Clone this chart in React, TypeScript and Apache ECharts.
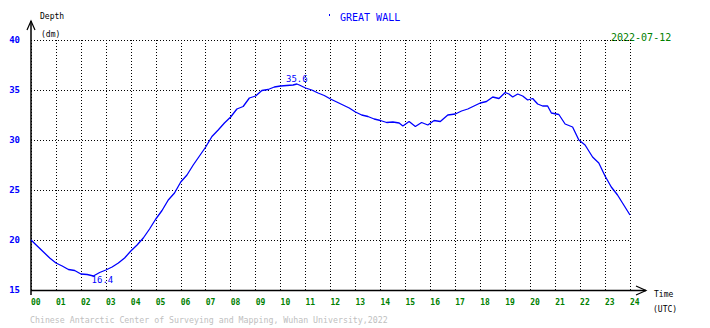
import React, { useEffect, useRef } from "react";
import * as echarts from "echarts";

// Tide readings (hours UTC, depth in dm)
const hours: number[] = [
  0, 0.25, 0.5, 0.75, 1.0, 1.25, 1.5, 1.75, 2.0, 2.25, 2.5, 2.75, 3.0, 3.25, 3.5, 3.75,
  4.0, 4.25, 4.5, 4.75, 5.0, 5.25, 5.5, 5.75, 6.0, 6.25, 6.5, 6.75, 7.0, 7.25, 7.5, 7.75,
  8.0, 8.25, 8.5, 8.75, 9.0, 9.25, 9.5, 9.75, 10.0, 10.25, 10.5, 10.65, 10.75, 11.0, 11.25,
  11.5, 11.75, 12.0, 12.25, 12.5, 12.75, 13.0, 13.25, 13.5, 13.75, 14.0, 14.25, 14.5, 14.75,
  14.9, 15.15, 15.4, 15.65, 15.9, 16.15, 16.4, 16.7, 17.0, 17.25, 17.5, 17.75, 18.0, 18.25,
  18.5, 18.75, 19.0, 19.15, 19.3, 19.5, 19.7, 19.9, 20.1, 20.3, 20.5, 20.7, 20.85, 21.15,
  21.4, 21.7, 21.95, 22.2, 22.5, 22.75, 23.0, 23.25, 23.5, 23.75, 24.0,
];
const depths: number[] = [
  20.0, 19.4, 18.8, 18.2, 17.7, 17.4, 17.05, 16.95, 16.6, 16.55, 16.4, 16.75, 17.0, 17.3, 17.7, 18.2,
  18.9, 19.5, 20.2, 21.1, 22.1, 22.95, 24.0, 24.7, 25.8, 26.5, 27.5, 28.4, 29.3, 30.35, 31.0, 31.7,
  32.3, 33.1, 33.35, 34.2, 34.4, 34.95, 35.05, 35.3, 35.4, 35.45, 35.5, 35.6, 35.5, 35.2, 35.0,
  34.7, 34.45, 34.1, 33.8, 33.5, 33.2, 32.8, 32.5, 32.35, 32.1, 31.95, 31.75, 31.8, 31.7,
  31.4, 31.85, 31.35, 31.75, 31.5, 31.95, 31.85, 32.5, 32.6, 32.9, 33.1, 33.4, 33.7, 33.85,
  34.3, 34.15, 34.75, 34.6, 34.3, 34.6, 34.4, 34.0, 34.15, 33.6, 33.4, 33.4, 32.7, 32.55,
  31.6, 31.3, 30.0, 29.5, 28.3, 27.7, 26.4, 25.3, 24.5, 23.5, 22.5,
];

const stationName = "GREAT WALL";
const dateText = "2022-07-12";
const footerText = "Chinese Antarctic Center of Surveying and Mapping, Wuhan University,2022";

const MONO = "'DejaVu Sans Mono', 'Liberation Mono', monospace";

export default function App() {
  const ref = useRef<HTMLDivElement>(null);

  useEffect(() => {
    if (!ref.current) return;
    const chart = echarts.init(ref.current, undefined, { renderer: "svg" });
    const data = hours.map((h, i) => [h, depths[i]]);
    const dotted = { color: "#000", width: 1, type: [1, 2] as any };

    chart.setOption({
      animation: false,
      backgroundColor: "#fff",
      grid: { left: 31, top: 40, right: 80, bottom: 38, containLabel: false },
      xAxis: {
        type: "value",
        min: 0,
        max: 24,
        interval: 1,
        axisLine: { show: false },
        axisTick: { show: false },
        splitLine: { show: true, lineStyle: dotted },
        axisLabel: {
          color: "#008000",
          fontFamily: MONO,
          fontWeight: "bold",
          fontSize: 8,
          align: "left",
          margin: 8,
          showMinLabel: true,
          showMaxLabel: true,
          formatter: (v: number) => (v < 10 ? "0" + v : String(v)),
        },
      },
      yAxis: {
        type: "value",
        min: 15,
        max: 40,
        interval: 5,
        axisLine: { show: false },
        axisTick: { show: false },
        splitLine: { show: true, lineStyle: dotted },
        axisLabel: {
          color: "#0000ff",
          fontFamily: MONO,
          fontWeight: "bold",
          fontSize: 9,
          margin: 11,
          padding: [0, 0, 5, 0],
        },
      },
      series: [
        {
          type: "line",
          data,
          symbol: "none",
          lineStyle: { color: "#0000ff", width: 1.3 },
          markPoint: {
            symbol: "circle",
            symbolSize: 0,
            itemStyle: { color: "transparent" },
            data: [
              {
                type: "min",
                label: {
                  show: true,
                  position: "inside",
                  offset: [9, 4],
                  color: "#0000ff",
                  fontFamily: MONO,
                  fontSize: 9,
                  formatter: (p: any) => p.value.toFixed(1),
                },
              },
              {
                type: "max",
                label: {
                  show: true,
                  position: "inside",
                  offset: [0, -5],
                  color: "#0000ff",
                  fontFamily: MONO,
                  fontSize: 9,
                  formatter: (p: any) => p.value.toFixed(1),
                },
              },
            ],
          },
        },
      ],
      graphic: [
        // y axis line with open arrow
        { type: "line", shape: { x1: 31, y1: 21, x2: 31, y2: 295 }, style: { stroke: "#000", lineWidth: 1.5 } },
        { type: "polyline", shape: { points: [[27, 30], [31, 21], [35, 30]] }, style: { stroke: "#000", lineWidth: 1.2, fill: "none" } },
        // x axis line with open arrow
        { type: "line", shape: { x1: 31, y1: 290.5, x2: 646, y2: 290.5 }, style: { stroke: "#000", lineWidth: 1.5 } },
        { type: "polyline", shape: { points: [[636, 286], [646, 290.5], [636, 295]] }, style: { stroke: "#000", lineWidth: 1.2, fill: "none" } },
        // axis titles
        { type: "text", x: 40, y: 16, style: { text: "Depth", fill: "#000", font: `8px ${MONO}`, verticalAlign: "middle" } },
        { type: "text", x: 41, y: 34, style: { text: "(dm)", fill: "#000", font: `8px ${MONO}`, verticalAlign: "middle" } },
        { type: "text", x: 654, y: 294.5, style: { text: "Time", fill: "#000", font: `8px ${MONO}`, verticalAlign: "middle" } },
        { type: "text", x: 653, y: 309.5, style: { text: "(UTC)", fill: "#000", font: `8px ${MONO}`, verticalAlign: "middle" } },
        // title
        { type: "rect", shape: { x: 329, y: 14, width: 1, height: 2 }, style: { fill: "#0000ff" } },
        { type: "text", x: 340, y: 17, style: { text: stationName, fill: "#0000ff", font: `10px ${MONO}`, verticalAlign: "middle" } },
        { type: "text", x: 611, y: 37, style: { text: dateText, fill: "#008000", font: `10px ${MONO}`, verticalAlign: "middle" } },
        // footer
        { type: "text", x: 30, y: 320, style: { text: footerText, fill: "#c0c0c0", font: `8.25px ${MONO}`, verticalAlign: "middle" } },
      ],
    });

    return () => chart.dispose();
  }, []);

  return (
    <div
      ref={ref}
      style={{ position: "absolute", left: 0, top: 0, width: 710, height: 328 }}
    />
  );
}
